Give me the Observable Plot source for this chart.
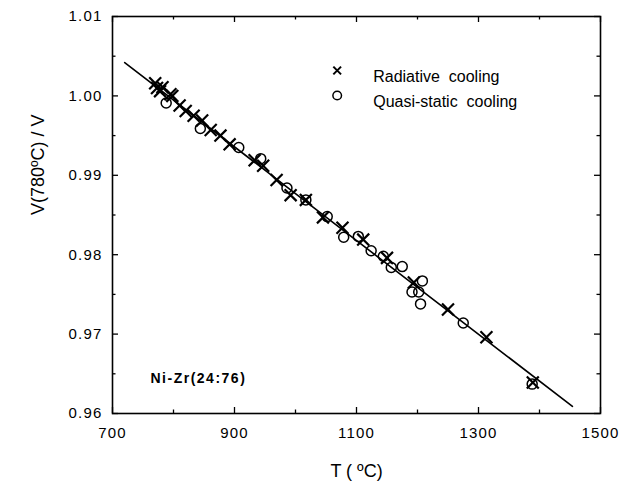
<!DOCTYPE html>
<html>
<head>
<meta charset="utf-8">
<script src="https://cdn.jsdelivr.net/npm/d3@7"></script>
<script src="https://cdn.jsdelivr.net/npm/@observablehq/plot@0.6"></script>
<style>
  html, body { margin: 0; padding: 0; background: #fff; }
  #chart { width: 622px; height: 487px; }
</style>
</head>
<body>
<div id="chart"></div>
<script>
// Radiative cooling (× markers)
const radT = [770, 773, 778, 782, 795, 798, 810, 820, 833, 847, 861, 877, 892, 933, 947, 969, 992, 1017, 1045, 1077, 1111, 1150, 1194, 1250, 1313, 1389];
const radV = [1.0016, 1.0010, 1.0006, 1.0011, 1.0002, 1.0000, 0.9988, 0.9981, 0.9975, 0.9969, 0.9957, 0.9950, 0.9939, 0.9919, 0.9912, 0.9894, 0.9875, 0.9869, 0.9847, 0.9834, 0.9819, 0.9796, 0.9765, 0.9731, 0.9696, 0.9639];

// Quasi-static cooling (○ markers)
const quaT = [788, 844, 907, 943, 986, 1017, 1052, 1079, 1103, 1124, 1144, 1157, 1175, 1191, 1202, 1205, 1208, 1275, 1388];
const quaV = [0.9991, 0.9959, 0.9935, 0.9921, 0.9884, 0.9869, 0.9848, 0.9822, 0.9823, 0.9805, 0.9798, 0.9784, 0.9785, 0.9753, 0.9753, 0.9738, 0.9767, 0.9714, 0.9637];

// Linear fit line end points
const fitT = [720, 1454];
const fitV = [1.0042, 0.9609];

// Tick values
const xMajorTicks = [700, 900, 1100, 1300, 1500];
const xMinorTicks = [800, 1000, 1200, 1400];
const yMajorTicks = [0.96, 0.97, 0.98, 0.99, 1.00, 1.01];
const yMinorTicks = [0.965, 0.975, 0.985, 0.995, 1.005];

// Texts
const xLabel = "T ( ºC)";
const yLabel = "V(780ºC) / V";
const sampleLabel = "Ni-Zr(24:76)";
const legendLabels = ["Radiative  cooling", "Quasi-static  cooling"];

const radiative = radT.map((t, i) => ({T: t, V: radV[i]}));
const quasi = quaT.map((t, i) => ({T: t, V: quaV[i]}));
const fit = fitT.map((t, i) => ({T: t, V: fitV[i]}));

const W = 622, H = 487, mT = 16, mR = 22, mB = 74, mL = 112;
const innerH = H - mT - mB, innerW = W - mL - mR;
const major = 6, minor = 3.5;

const plot = Plot.plot({
  width: W, height: H,
  marginTop: mT, marginRight: mR, marginBottom: mB, marginLeft: mL,
  style: {fontFamily: "'Liberation Sans', Arial, Helvetica, sans-serif", background: "#fff", color: "#000", overflow: "visible"},
  x: {domain: [700, 1500]},
  y: {domain: [0.96, 1.01]},
  marks: [
    // inward ticks, all four sides
    Plot.tickX(xMajorTicks, {x: d => d, insetTop: innerH - major, stroke: "#000", strokeWidth: 1.3}),
    Plot.tickX(xMinorTicks, {x: d => d, insetTop: innerH - minor, stroke: "#000", strokeWidth: 1.3}),
    Plot.tickX(xMajorTicks, {x: d => d, insetBottom: innerH - major, stroke: "#000", strokeWidth: 1.3}),
    Plot.tickX(xMinorTicks, {x: d => d, insetBottom: innerH - minor, stroke: "#000", strokeWidth: 1.3}),
    Plot.tickY(yMajorTicks, {y: d => d, insetRight: innerW - major, stroke: "#000", strokeWidth: 1.3}),
    Plot.tickY(yMinorTicks, {y: d => d, insetRight: innerW - minor, stroke: "#000", strokeWidth: 1.3}),
    Plot.tickY(yMajorTicks, {y: d => d, insetLeft: innerW - major, stroke: "#000", strokeWidth: 1.3}),
    Plot.tickY(yMinorTicks, {y: d => d, insetLeft: innerW - minor, stroke: "#000", strokeWidth: 1.3}),
    Plot.axisX({ticks: xMajorTicks, tickSize: 0, tickPadding: 14, fontSize: 15, label: null, tickFormat: "d"}),
    Plot.axisY({ticks: yMajorTicks, tickSize: 0, tickPadding: 10, fontSize: 15, label: null, tickFormat: ".2f"}),
    Plot.frame({stroke: "#000", strokeWidth: 1.6}),
    // fit line
    Plot.line(fit, {x: "T", y: "V", stroke: "#000", strokeWidth: 1.6}),
    // data
    Plot.dot(quasi, {x: "T", y: "V", r: 5, stroke: "#000", strokeWidth: 1.5, fill: "none"}),
    Plot.dot(radiative, {x: "T", y: "V", symbol: "times", r: 5.5, stroke: "#000", strokeWidth: 2.2}),
    // legend
    Plot.dot([legendLabels[0]], {frameAnchor: "top-left", dx: 224.7, dy: 54, symbol: "times", r: 3.6, stroke: "#000", strokeWidth: 2}),
    Plot.dot([legendLabels[1]], {frameAnchor: "top-left", dx: 224.7, dy: 79, r: 4.3, stroke: "#000", strokeWidth: 1.5, fill: "none"}),
    Plot.text([legendLabels[0]], {frameAnchor: "top-left", dx: 260.7, dy: 54, text: d => d, textAnchor: "start", fontSize: 16, className: "legtext"}),
    Plot.text([legendLabels[1]], {frameAnchor: "top-left", dx: 260.7, dy: 79, text: d => d, textAnchor: "start", fontSize: 16, className: "legtext"}),
    // sample label
    Plot.text([sampleLabel], {frameAnchor: "bottom-left", dx: 38, dy: -31, text: d => d, textAnchor: "start", fontSize: 14, fontWeight: "bold", className: "sample"}),
    // axis titles
    Plot.text([xLabel], {frameAnchor: "bottom", dy: 63, text: d => d, fontSize: 18}),
    Plot.text([yLabel], {frameAnchor: "left", dx: -74, rotate: -90, text: d => d, fontSize: 18})
  ]
});

document.getElementById("chart").appendChild(plot);
d3.select(plot).selectAll('g[aria-label="x-axis tick label"] text, g[aria-label="y-axis tick label"] text').style("letter-spacing", "1.2px");
d3.select(plot).selectAll('.sample text').style("letter-spacing", "1.5px");
d3.select(plot).selectAll('.legtext text').style("white-space", "pre");
</script>
</body>
</html>
